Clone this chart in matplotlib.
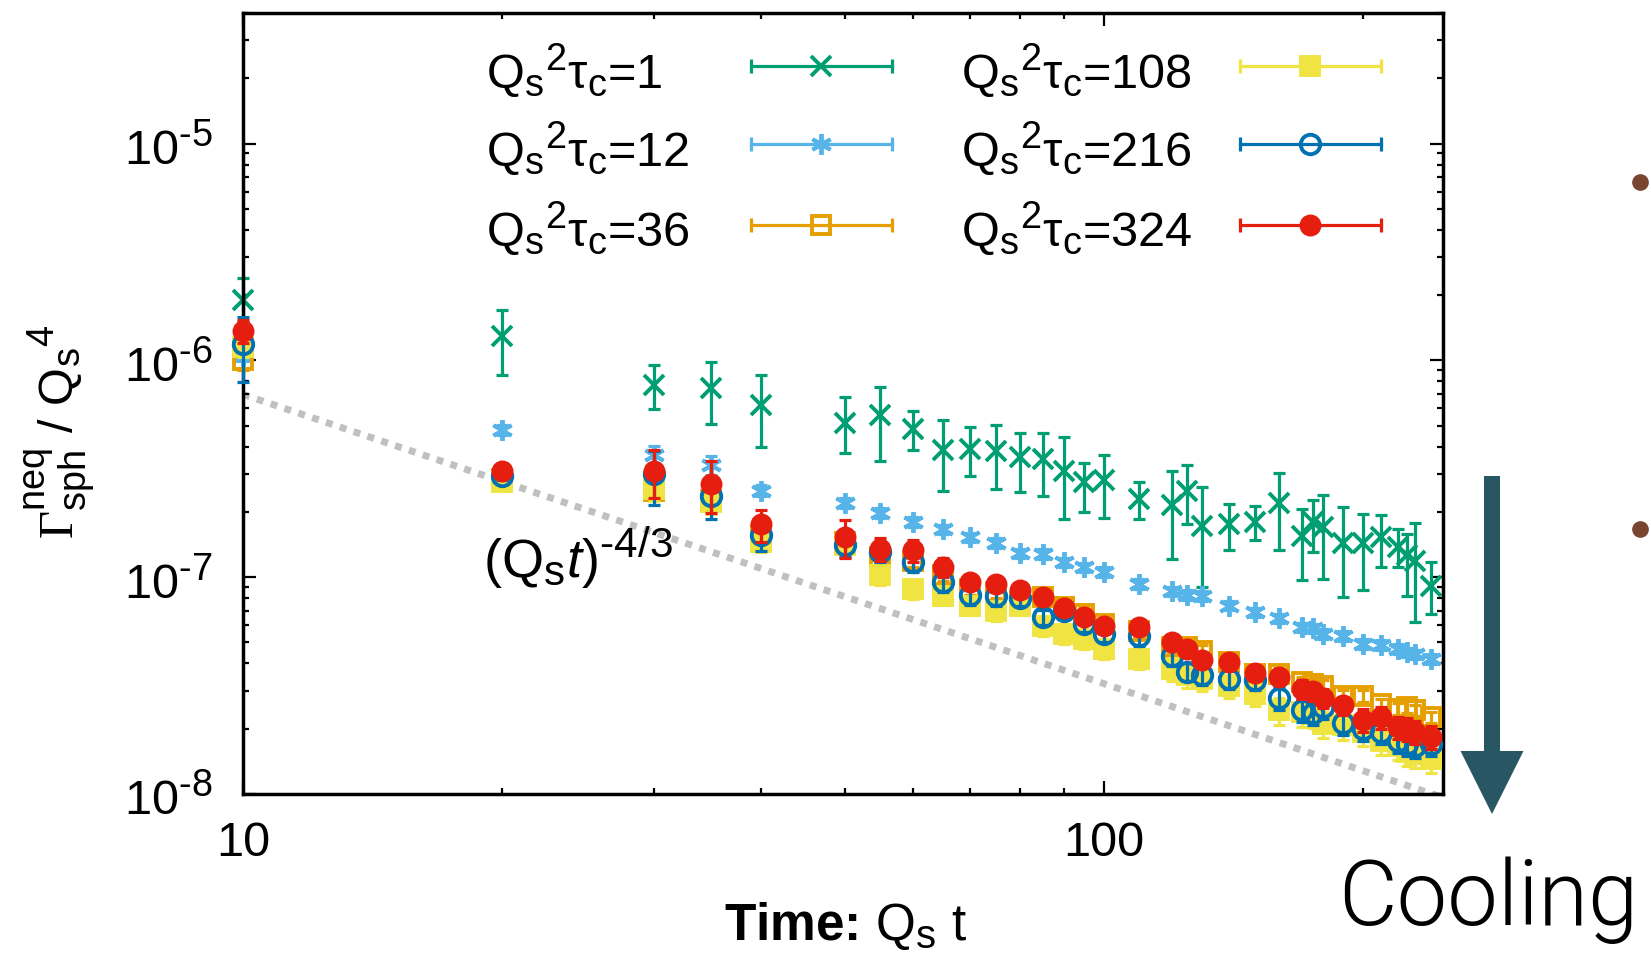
import numpy as np
import matplotlib
matplotlib.use("Agg")
import matplotlib.pyplot as plt
import matplotlib._mathtext as mathtext_internals
from matplotlib.patches import FancyArrow
from matplotlib.lines import Line2D
from matplotlib.ticker import FixedLocator, LogLocator, FuncFormatter, NullFormatter

plt.rcParams['font.family'] = ['Liberation Sans', 'DejaVu Sans']
plt.rcParams['mathtext.fontset'] = 'custom'
plt.rcParams['mathtext.rm'] = 'Liberation Sans'
plt.rcParams['mathtext.it'] = 'Liberation Sans:italic'
plt.rcParams['mathtext.bf'] = 'Liberation Sans:bold'
plt.rcParams['mathtext.sf'] = 'Liberation Serif'
plt.rcParams['axes.unicode_minus'] = False
# gnuplot-ish sub/superscripts are a bit larger than the mathtext default
mathtext_internals.SHRINK_FACTOR = 0.78

#%% data: sphaleron rate vs time for different cooling times
t = [10, 20, 30, 35, 40, 50, 55, 60, 65, 70, 75, 80, 85, 90, 95, 100, 110,
     120, 125, 130, 140, 150, 160, 170, 175, 180, 190, 200, 210, 220, 225, 230, 240]

tau_labels = ['1', '12', '36', '108', '216', '324']

# Qs^2 tau_c = 1, with asymmetric error band (lower / upper ends)
rate_1 = [1.89e-6, 1.29e-6, 7.7e-7, 7.45e-7, 6.24e-7, 5.15e-7, 5.57e-7, 4.8e-7, 3.85e-7,
          3.9e-7, 3.8e-7, 3.58e-7, 3.5e-7, 3.1e-7, 2.74e-7, 2.8e-7, 2.3e-7, 2.16e-7,
          2.5e-7, 1.73e-7, 1.76e-7, 1.8e-7, 2.2e-7, 1.55e-7, 1.79e-7, 1.7e-7, 1.43e-7,
          1.43e-7, 1.53e-7, 1.38e-7, 1.27e-7, 1.19e-7, 9.15e-8]
rate_1_lo = [1.5e-6, 8.6e-7, 5.94e-7, 5.07e-7, 3.98e-7, 3.73e-7, 3.45e-7, 3.85e-7, 2.51e-7,
             2.94e-7, 2.56e-7, 2.48e-7, 2.36e-7, 1.85e-7, 2.0e-7, 1.87e-7, 1.85e-7, 1.21e-7,
             1.75e-7, 9.0e-8, 1.33e-7, 1.49e-7, 1.33e-7, 9.66e-8, 1.31e-7, 9.76e-8, 8.08e-8,
             8.77e-8, 1.11e-7, 1.11e-7, 8.23e-8, 6.24e-8, 6.77e-8]
rate_1_hi = [2.4e-6, 1.71e-6, 9.55e-7, 9.8e-7, 8.6e-7, 6.78e-7, 7.53e-7, 5.83e-7, 5.28e-7,
             4.92e-7, 5.01e-7, 4.64e-7, 4.64e-7, 4.43e-7, 3.37e-7, 3.67e-7, 2.74e-7, 3.1e-7,
             3.3e-7, 2.6e-7, 2.18e-7, 2.14e-7, 3.03e-7, 2.07e-7, 2.28e-7, 2.4e-7, 2.1e-7,
             1.96e-7, 1.93e-7, 1.67e-7, 1.58e-7, 1.78e-7, 1.17e-7]

rate_12 = [1.05e-6, 4.78e-7, 3.65e-7, 3.28e-7, 2.51e-7, 2.2e-7, 1.98e-7, 1.8e-7, 1.66e-7,
           1.53e-7, 1.44e-7, 1.29e-7, 1.28e-7, 1.17e-7, 1.11e-7, 1.06e-7, 9.3e-8, 8.6e-8,
           8.3e-8, 8.2e-8, 7.4e-8, 6.9e-8, 6.47e-8, 5.88e-8, 5.8e-8, 5.47e-8, 5.35e-8,
           4.92e-8, 4.87e-8, 4.67e-8, 4.5e-8, 4.4e-8, 4.2e-8]
rate_36 = [1.0e-6, 2.84e-7, 2.51e-7, 2.26e-7, 1.56e-7, 1.45e-7, 1.24e-7, 1.19e-7, 1.02e-7,
           8.83e-8, 8.5e-8, 7.67e-8, 8.1e-8, 7.26e-8, 6.77e-8, 6.09e-8, 5.67e-8, 4.75e-8,
           4.75e-8, 4.59e-8, 4.06e-8, 3.58e-8, 3.58e-8, 3.27e-8, 3.21e-8, 3.16e-8, 2.84e-8,
           2.84e-8, 2.6e-8, 2.47e-8, 2.52e-8, 2.43e-8, 2.26e-8]
rate_108 = [1.15e-6, 2.74e-7, 2.55e-7, 2.22e-7, 1.45e-7, 1.4e-7, 1.02e-7, 8.83e-8, 8.23e-8,
            7.4e-8, 7.0e-8, 7.4e-8, 5.98e-8, 5.47e-8, 5.19e-8, 4.67e-8, 4.2e-8, 3.78e-8,
            3.52e-8, 3.4e-8, 3.16e-8, 2.9e-8, 2.43e-8, 2.38e-8, 2.34e-8, 2.1e-8, 2.07e-8,
            1.93e-8, 1.76e-8, 1.67e-8, 1.56e-8, 1.53e-8, 1.45e-8]
rate_216 = [1.19e-6, 2.94e-7, 2.98e-7, 2.38e-7, 1.56e-7, 1.41e-7, 1.31e-7, 1.17e-7, 9.5e-8,
            8.28e-8, 8.2e-8, 8.0e-8, 6.54e-8, 6.98e-8, 6.09e-8, 5.47e-8, 5.35e-8, 4.32e-8,
            3.67e-8, 3.54e-8, 3.4e-8, 3.34e-8, 2.77e-8, 2.43e-8, 2.37e-8, 2.52e-8, 2.13e-8,
            2.0e-8, 1.93e-8, 1.76e-8, 1.7e-8, 1.67e-8, 1.7e-8]
rate_324 = [1.37e-6, 3.1e-7, 3.1e-7, 2.7e-7, 1.75e-7, 1.53e-7, 1.35e-7, 1.33e-7, 1.11e-7,
            9.5e-8, 9.3e-8, 8.77e-8, 8.1e-8, 7.2e-8, 6.54e-8, 5.98e-8, 5.88e-8, 5.0e-8,
            4.67e-8, 4.13e-8, 4.06e-8, 3.61e-8, 3.45e-8, 3.05e-8, 2.97e-8, 2.77e-8, 2.56e-8,
            2.2e-8, 2.26e-8, 2.03e-8, 2.0e-8, 1.93e-8, 1.83e-8]

# relative statistical errors
relerr_12 = [0.05, 0.05, 0.1, 0.1, 0.06, 0.05, 0.05, 0.05, 0.05, 0.05, 0.05, 0.05, 0.05,
             0.05, 0.05, 0.05, 0.05, 0.05, 0.05, 0.05, 0.05, 0.05, 0.05, 0.05, 0.05, 0.05,
             0.05, 0.05, 0.05, 0.05, 0.05, 0.05, 0.05]
relerr_36 = [0.1, 0.06, 0.08, 0.08, 0.06, 0.06, 0.06, 0.06, 0.06, 0.06, 0.06, 0.06, 0.06,
             0.06, 0.06, 0.06, 0.06, 0.06, 0.06, 0.06, 0.06, 0.06, 0.06, 0.06, 0.06, 0.06,
             0.06, 0.06, 0.06, 0.06, 0.06, 0.06, 0.06]
relerr_108 = [0.1, 0.08, 0.12, 0.12, 0.1, 0.1, 0.1, 0.1, 0.1, 0.1, 0.1, 0.1, 0.1, 0.1, 0.1,
              0.1, 0.1, 0.12, 0.12, 0.12, 0.12, 0.12, 0.14, 0.14, 0.14, 0.14, 0.14, 0.14,
              0.14, 0.14, 0.14, 0.14, 0.14]
relerr_216 = [0.33, 0.05, 0.28, 0.22, 0.15, 0.12, 0.1, 0.1, 0.1, 0.1, 0.1, 0.08, 0.08, 0.08,
              0.08, 0.08, 0.1, 0.1, 0.1, 0.1, 0.1, 0.1, 0.12, 0.12, 0.12, 0.12, 0.12, 0.12,
              0.12, 0.12, 0.12, 0.12, 0.12]
relerr_324 = [0.12, 0.05, 0.25, 0.27, 0.17, 0.2, 0.12, 0.12, 0.1, 0.08, 0.08, 0.07, 0.07,
              0.07, 0.07, 0.07, 0.08, 0.08, 0.08, 0.08, 0.08, 0.08, 0.08, 0.1, 0.1, 0.1,
              0.1, 0.12, 0.12, 0.12, 0.12, 0.12, 0.12]

# guide: (Qs t)^(-4/3)
guide_amp = 1.5e-5
guide_t = [10, 260]

#%% styles (gnuplot-like palette)
colors = ['#009e73', '#56b4e9', '#e69f00', '#f0e442', '#0072b2', '#e51e10']
markers = ['x', (6, 2, 0), 's', 's', 'o', 'o']
faces = ['none', 'none', 'none', '#f0e442', 'none', '#e51e10']
msizes = [15, 15, 13, 13, 14, 13]

fig = plt.figure(figsize=(16.51, 9.54), dpi=100)
ax = fig.add_axes([243 / 1651, 1 - 795 / 954, 1200 / 1651, 781 / 954])

t_arr = np.array(t, dtype=float)
rate_1 = np.array(rate_1)
series = [
    (rate_1, [rate_1 - np.array(rate_1_lo), np.array(rate_1_hi) - rate_1]),
]
for r, e in [(rate_12, relerr_12), (rate_36, relerr_36), (rate_108, relerr_108),
             (rate_216, relerr_216), (rate_324, relerr_324)]:
    r = np.array(r)
    series.append((r, r * np.array(e)))

g = np.array(guide_t, dtype=float)
ax.plot(g, guide_amp * g ** (-4 / 3), color='#c0c0c0', lw=5,
        linestyle=(0, (1, 1.1)), dash_capstyle='butt', zorder=1)
ax.text(19.0, 1.0e-7, r'$(\mathrm{Q_s}t)^{\text{-}4/3}$', fontsize=39,
        ha='left', va='baseline')

for i, (r, err) in enumerate(series):
    eb = ax.errorbar(t_arr, r, yerr=err, fmt='none', ecolor=colors[i],
                     elinewidth=2.3, capsize=4.5, capthick=2.3, zorder=2 + i)
    for art in eb.get_children():
        art.set_clip_on(False)
    ax.plot(t_arr, r, linestyle='none', marker=markers[i], ms=msizes[i],
            mec=colors[i], mfc=faces[i], mew=2.8, color=colors[i],
            zorder=2 + i, clip_on=False)

# key: label followed by a sample with error-bar end caps
key_text_x = [0.2025, 0.598]
key_line_x = [(0.423, 0.541), (0.831, 0.948)]
key_row_y = [0.932, 0.832, 0.729]
for i, lab in enumerate(tau_labels):
    col, row = i // 3, i % 3
    y = key_row_y[row]
    x0, x1 = key_line_x[col]
    ax.text(key_text_x[col], y - 0.004, r'$\mathrm{Q_s{}^2\tau_c}$=' + lab, fontsize=35,
            transform=ax.transAxes, ha='left', va='center')
    ax.plot([x0, x1], [y, y], transform=ax.transAxes, color=colors[i], lw=2.3,
            clip_on=False)
    ax.plot([x0, x1], [y, y], transform=ax.transAxes, linestyle='none', marker='|',
            ms=10, mew=2.3, color=colors[i], clip_on=False)
    ax.plot([(x0 + x1) / 2], [y], transform=ax.transAxes, linestyle='none',
            marker=markers[i], ms=msizes[i], mec=colors[i], mfc=faces[i], mew=2.8,
            clip_on=False)

ax.set_xscale('log')
ax.set_yscale('log')
ax.set_xlim(10, 248)
ax.set_ylim(1e-8, 4e-5)

ax.xaxis.set_major_locator(FixedLocator([10, 100]))
ax.xaxis.set_major_formatter(FuncFormatter(lambda v, p: '%d' % round(v)))
ax.xaxis.set_minor_locator(LogLocator(base=10, subs=np.arange(2, 10)))
ax.xaxis.set_minor_formatter(NullFormatter())
ax.yaxis.set_major_locator(FixedLocator([1e-8, 1e-7, 1e-6, 1e-5]))
ax.yaxis.set_major_formatter(FuncFormatter(
    lambda v, p: r'$\mathrm{10^{\text{-}%d}}$' % round(-np.log10(v))))
ax.yaxis.set_minor_locator(LogLocator(base=10, subs=np.arange(2, 10)))
ax.yaxis.set_minor_formatter(NullFormatter())

ax.tick_params(which='both', direction='in', top=True, right=True, width=1.6)
ax.tick_params(which='major', length=9.5, labelsize=35)
ax.tick_params(which='minor', length=4.5)
ax.tick_params(axis='x', which='major', pad=19)
ax.tick_params(axis='y', which='major', pad=22)
for s in ax.spines.values():
    s.set_linewidth(2.5)

ax.set_xlabel(r'Time: $\mathrm{Q_s\ t}$', fontsize=37, fontweight='bold')
ax.xaxis.set_label_coords(0.5025, -0.1857)
ax.xaxis.label.set_va('baseline')
ax.set_ylabel(r'$\mathsf{\Gamma}^{\mathrm{neq}}_{\mathrm{sph}}\mathrm{\ /\ Q_s{}^4}$',
              fontsize=35)
ax.yaxis.set_label_coords(-0.1525, 0.465)
ax.yaxis.label.set_va('center')

# slide decorations on the right
fig.add_artist(FancyArrow(14.92, 4.77, 0, -3.38, width=0.16, head_width=0.63,
                          head_length=0.63, length_includes_head=True,
                          transform=fig.dpi_scale_trans, color='#285763', lw=0))
fig.text(0.8104, 0.0304, 'Cooling', fontsize=65, family=['Roboto', 'Liberation Sans'],
         fontweight=300, ha='left', va='baseline')
for yb in [0.8082, 0.4444]:
    fig.add_artist(Line2D([0.9933], [yb], transform=fig.transFigure, marker='o',
                          ms=11, color='#7a4530', linestyle='none'))

fig.savefig('out.png', dpi=100)
